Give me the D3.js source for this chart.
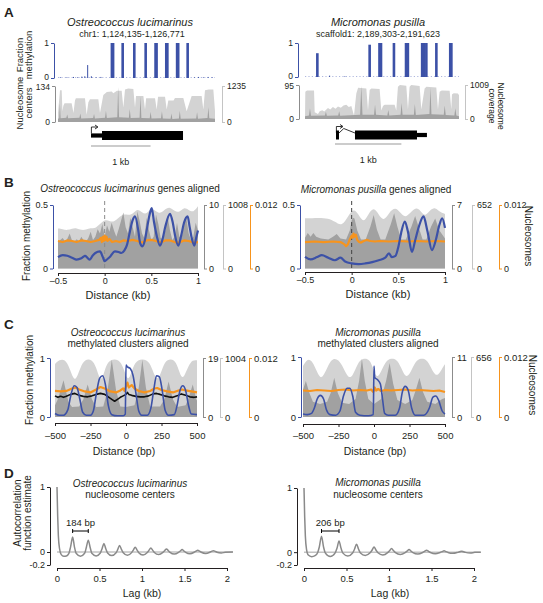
<!DOCTYPE html>
<html>
<head>
<meta charset="utf-8">
<script src="https://cdn.jsdelivr.net/npm/d3@7/dist/d3.min.js"></script>
<style>
html,body{margin:0;padding:0;background:#fff;}
svg{display:block;font-family:"Liberation Sans",Arial,Helvetica,sans-serif;}
</style>
</head>
<body>
<svg id="fig" width="543" height="603" viewBox="0 0 543 603"></svg>
<script>
// ================= DATA =================
const speciesO = "Ostreococcus lucimarinus";
const speciesM = "Micromonas pusilla";
const chromO = "chr1", regionO = [1124135, 1126771];
const chromM = "scaffold1", regionM = [2189303, 2191623];

// ---- Panel A : single locus (bp from region start) ----
const methPosO = [40,150,260,330,400,450,498,560,640,720,905,925,1086,1281,1472,1638,1655,1818,1836,2000,2018,2177,2290,2360,2440,2520,2590];
const methValO = [0.02,0.02,0.03,0.02,0.04,0.05,0.37,0.05,0.02,0.03,1,1,1,1,1,1,1,1,1,1,1,1,0.02,0.03,0.02,0.03,0.02];
const methPosM = [186,371,600,974,1122,1145,1340,1522,1550,1765,1790,1828,1979,2188,2205];
const methValM = [0.7,0.04,0.02,0.95,1,1,1,1,1,1,1,1,1,1,1];
const covMaxO = 1235, cenMaxO = 134, covMaxM = 1009, cenMaxM = 95;
const covO = [[0,309],[34,1087],[62,1087],[75,370],[90,556],[110,642],[229,642],[260,309],[285,741],[300,815],[453,815],[481,247],[510,679],[537,778],[677,778],[705,309],[761,926],[820,1025],[901,1050],[929,988],[990,1074],[1069,1074],[1097,494],[1125,1111],[1180,1149],[1265,1136],[1293,494],[1310,889],[1433,889],[1461,432],[1480,815],[1629,815],[1657,432],[1680,864],[1797,864],[1825,432],[1852,741],[1940,741],[1964,827],[2104,827],[2160,370],[2244,889],[2412,889],[2440,432],[2468,1087],[2530,1111],[2608,1111],[2636,370]];
const cenO = [[0,12],[20,14],[32,70],[44,14],[140,16],[155,28],[170,14],[360,16],[375,32],[390,13],[590,15],[605,30],[620,13],[790,16],[805,42],[820,15],[995,18],[1010,130],[1025,18],[1190,16],[1205,48],[1220,15],[1370,16],[1385,95],[1400,15],[1540,14],[1555,38],[1570,13],[1730,14],[1745,40],[1760,13],[1890,12],[1905,32],[1920,11],[2030,13],[2045,42],[2060,12],[2320,13],[2335,36],[2350,12],[2510,15],[2525,55],[2540,14],[2636,12]];
const covM = [[0,50],[5,807],[30,848],[136,848],[146,202],[196,151],[221,232],[260,262],[290,222],[346,323],[380,283],[420,353],[460,303],[497,373],[540,333],[580,404],[622,424],[660,353],[698,383],[738,101],[773,757],[800,928],[924,908],[949,252],[974,858],[1000,908],[1124,888],[1150,252],[1175,383],[1200,424],[1350,424],[1375,252],[1400,959],[1430,1009],[1526,989],[1551,283],[1576,959],[1600,1009],[1727,979],[1752,283],[1802,908],[1830,959],[1978,938],[2003,283],[2028,807],[2060,848],[2179,837],[2204,283],[2214,726],[2240,767],[2304,757],[2320,706]];
const cenM = [[0,8],[60,10],[75,30],[90,9],[300,10],[315,20],[330,9],[500,10],[515,22],[530,9],[830,12],[848,92],[866,12],[1040,12],[1055,40],[1070,12],[1240,10],[1255,25],[1270,10],[1440,12],[1455,45],[1470,12],[1640,12],[1655,42],[1670,11],[1875,14],[1890,88],[1905,13],[2090,12],[2105,38],[2120,11],[2250,10],[2265,30],[2280,10],[2320,8]];
const geneExonsO = [[554,739,"utr"],[739,2099,"cds"]], geneIntronsO = [], tssO = 554;
const geneExonsM = [[467,512,"cds"],[753,1687,"cds"],[1687,1837,"utr"]], geneIntronsM = [[512,753]], tssM = 467;
const scaleBarO = [554,1554], scaleBarM = [452,1452];

// ---- Panel B : genes aligned (kb) ----
const bMaxO = [0.5, 10, 1008, 0.012];   // methylation, centers, coverage, MNase
const bMaxM = [0.5, 7, 652, 0.012];
const covB_O = [[-0.5,635],[-0.45,625],[-0.4,605],[-0.35,635],[-0.3,645],[-0.25,605],[-0.2,615],[-0.15,645],[-0.1,635],[-0.05,706],[0,776],[0.05,756],[0.1,736],[0.15,806],[0.2,867],[0.25,847],[0.3,857],[0.35,958],[0.4,887],[0.45,857],[0.5,968],[0.55,907],[0.6,867],[0.65,948],[0.7,978],[0.75,907],[0.8,887],[0.85,978],[0.9,927],[0.95,887],[1.0,988]];
const cenB_O = [[-0.5,4.2],[-0.475,4.5],[-0.45,4.8],[-0.425,4.3],[-0.4,4.7],[-0.375,5.5],[-0.35,4.4],[-0.325,4.2],[-0.3,4.6],[-0.275,4.3],[-0.25,5.0],[-0.225,4.4],[-0.2,4.2],[-0.175,4.8],[-0.15,5.8],[-0.125,4.5],[-0.1,5.0],[-0.075,6.2],[-0.05,5.5],[-0.025,7.0],[0,5.0],[0.025,6.8],[0.05,5.8],[0.075,7.2],[0.1,6.0],[0.125,5.0],[0.15,6.2],[0.175,7.5],[0.2,8.8],[0.225,6.5],[0.25,5.5],[0.275,8.0],[0.3,6.5],[0.325,5.0],[0.35,9.0],[0.375,7.5],[0.4,5.5],[0.425,4.8],[0.45,8.0],[0.475,6.0],[0.5,4.5],[0.525,5.0],[0.55,8.5],[0.575,7.0],[0.6,4.8],[0.625,4.6],[0.65,6.0],[0.675,8.2],[0.7,6.0],[0.725,4.5],[0.75,5.0],[0.775,7.2],[0.8,5.0],[0.825,4.8],[0.85,7.5],[0.875,8.0],[0.9,5.5],[0.925,4.5],[0.95,5.0],[0.975,7.2],[1.0,6.0]];
const mnB_O = [[-0.5,0.0052],[-0.45,0.0050],[-0.4,0.0053],[-0.35,0.0052],[-0.3,0.0050],[-0.25,0.0053],[-0.2,0.0052],[-0.15,0.0050],[-0.1,0.0052],[-0.06,0.0054],[-0.04,0.0058],[-0.03,0.0050],[-0.02,0.0060],[-0.01,0.0052],[0,0.0062],[0.01,0.0054],[0.02,0.0060],[0.03,0.0052],[0.05,0.0056],[0.08,0.0050],[0.12,0.0052],[0.16,0.0050],[0.2,0.0053],[0.25,0.0052],[0.3,0.0054],[0.35,0.0052],[0.4,0.0049],[0.45,0.0053],[0.5,0.0054],[0.55,0.0052],[0.6,0.0049],[0.65,0.0053],[0.7,0.0053],[0.75,0.0050],[0.8,0.0049],[0.85,0.0053],[0.9,0.0052],[0.95,0.0049],[1.0,0.0050]];
const methB_O = [[-0.5,0.09],[-0.45,0.105],[-0.4,0.1],[-0.35,0.085],[-0.3,0.07],[-0.25,0.08],[-0.21,0.1],[-0.16,0.07],[-0.13,0.1],[-0.1,0.122],[-0.05,0.135],[-0.02,0.09],[0,0.057],[0.03,0.075],[0.06,0.095],[0.11,0.135],[0.15,0.13],[0.18,0.122],[0.21,0.14],[0.24,0.188],[0.27,0.29],[0.3,0.38],[0.325,0.41],[0.36,0.3],[0.38,0.2],[0.404,0.175],[0.43,0.22],[0.45,0.3],[0.48,0.42],[0.504,0.475],[0.53,0.36],[0.56,0.25],[0.593,0.18],[0.62,0.23],[0.65,0.33],[0.7,0.43],[0.73,0.36],[0.754,0.26],[0.789,0.18],[0.82,0.26],[0.85,0.36],[0.889,0.41],[0.91,0.33],[0.93,0.25],[0.961,0.18],[0.98,0.24],[1.0,0.3]];
const covB_M = [[-0.5,515],[-0.35,522],[-0.25,515],[-0.18,482],[-0.104,430],[-0.04,535],[0.021,619],[0.07,561],[0.129,463],[0.18,561],[0.236,632],[0.29,554],[0.343,482],[0.4,574],[0.468,632],[0.52,574],[0.575,515],[0.64,587],[0.7,632],[0.75,574],[0.789,535],[0.84,600],[0.896,632],[0.95,574],[1.0,561]];
const cenB_M = [[-0.5,3.4],[-0.47,3.9],[-0.44,3.5],[-0.41,3.9],[-0.38,3.5],[-0.33,3.3],[-0.25,3.2],[-0.2,3.5],[-0.16,3.8],[-0.12,3.3],[-0.06,3.2],[-0.02,4.2],[0,5.3],[0.015,5.6],[0.03,5.5],[0.06,4.2],[0.1,3.2],[0.15,3.2],[0.2,4.6],[0.236,5.9],[0.27,4.3],[0.31,3.2],[0.36,3.2],[0.42,4.9],[0.455,6.1],[0.49,4.6],[0.53,3.2],[0.58,3.2],[0.64,4.6],[0.68,5.8],[0.72,4.5],[0.76,3.2],[0.8,3.2],[0.85,4.6],[0.895,5.5],[0.94,4.2],[1.0,3.3]];
const mnB_M = [[-0.5,0.0050],[-0.4,0.0051],[-0.3,0.0050],[-0.2,0.0051],[-0.12,0.0050],[-0.08,0.0046],[-0.06,0.0042],[-0.04,0.0046],[-0.02,0.0055],[0,0.0062],[0.01,0.0058],[0.02,0.0066],[0.03,0.0060],[0.045,0.0064],[0.06,0.0054],[0.08,0.0050],[0.1,0.0049],[0.13,0.0052],[0.16,0.0054],[0.2,0.0052],[0.25,0.0051],[0.3,0.0052],[0.4,0.0051],[0.5,0.0052],[0.6,0.0051],[0.7,0.0052],[0.8,0.0051],[0.9,0.0052],[1.0,0.0051]];
const methB_M = [[-0.5,0.092],[-0.44,0.072],[-0.37,0.09],[-0.32,0.105],[-0.25,0.085],[-0.18,0.065],[-0.12,0.085],[-0.07,0.055],[0,0.04],[0.075,0.035],[0.146,0.04],[0.22,0.05],[0.29,0.065],[0.36,0.085],[0.4,0.12],[0.43,0.09],[0.47,0.1],[0.5,0.17],[0.53,0.28],[0.57,0.37],[0.6,0.3],[0.646,0.13],[0.68,0.22],[0.72,0.33],[0.77,0.41],[0.81,0.3],[0.86,0.145],[0.9,0.22],[0.935,0.33],[0.97,0.395],[1.0,0.32]];

// ---- Panel C : methylated clusters aligned (bp) ----
const cMaxO = [1, 19, 1004, 0.012];
const cMaxM = [1, 11, 656, 0.012];
const covC_O = [[-500,904],[-470,974],[-430,984],[-400,853],[-370,643],[-350,643],[-320,853],[-290,984],[-240,984],[-210,853],[-185,633],[-165,653],[-140,884],[-110,984],[-50,984],[-20,853],[5,653],[25,653],[50,853],[80,984],[150,984],[180,853],[210,643],[235,663],[260,863],[290,984],[340,984],[365,853],[390,663],[410,683],[440,873],[470,974],[500,964]];
const cenC_O = [[-500,3.8],[-480,5.7],[-440,11.8],[-405,4.8],[-380,3.2],[-330,3.4],[-300,5.7],[-270,10.5],[-240,5.7],[-210,3.2],[-160,3.4],[-130,8.6],[-100,18.4],[-70,8.6],[-40,3.4],[0,3.2],[60,3.8],[90,9.5],[115,18.4],[140,9.5],[170,3.4],[240,3.4],[270,5.7],[300,11.4],[330,5.7],[360,3.2],[420,3.8],[445,6.7],[470,10.5],[495,5.7],[500,5.3]];
const mnC_O = [[-500,0.0053],[-460,0.0052],[-420,0.0053],[-380,0.0058],[-355,0.0060],[-330,0.0056],[-290,0.0052],[-250,0.0050],[-210,0.0056],[-180,0.0061],[-150,0.0058],[-110,0.0052],[-70,0.0050],[-40,0.0054],[-20,0.0058],[-10,0.0053],[0,0.0062],[10,0.0070],[20,0.0060],[40,0.0065],[60,0.0058],[90,0.0053],[130,0.0050],[170,0.0053],[200,0.0058],[220,0.0059],[250,0.0055],[290,0.0052],[330,0.0050],[370,0.0054],[395,0.0056],[420,0.0054],[460,0.0052],[500,0.0050]];
const mnC2_O = [[-500,0.0043],[-480,0.0040],[-460,0.0042],[-440,0.0040],[-420,0.0042],[-390,0.0046],[-360,0.0048],[-330,0.0044],[-300,0.0042],[-270,0.0041],[-240,0.0043],[-210,0.0046],[-180,0.0048],[-150,0.0046],[-120,0.0040],[-95,0.0035],[-80,0.0032],[-60,0.0036],[-40,0.0040],[-20,0.0043],[0,0.0046],[10,0.0050],[20,0.0046],[40,0.0044],[70,0.0042],[100,0.0041],[130,0.0041],[160,0.0043],[190,0.0047],[215,0.0048],[240,0.0046],[270,0.0043],[300,0.0041],[330,0.0040],[360,0.0043],[390,0.0047],[420,0.0044],[450,0.0041],[480,0.0040],[500,0.0041]];
const methC_O = [[-500,0.06],[-470,0.03],[-440,0.03],[-410,0.12],[-390,0.35],[-365,0.53],[-345,0.5],[-325,0.3],[-305,0.08],[-280,0.03],[-250,0.03],[-230,0.1],[-210,0.38],[-185,0.66],[-165,0.7],[-145,0.55],[-125,0.2],[-100,0.04],[-60,0.02],[-20,0.02],[-5,0.05],[0,0.88],[10,0.85],[30,0.82],[50,0.7],[70,0.4],[90,0.1],[110,0.03],[150,0.03],[175,0.15],[195,0.45],[215,0.7],[235,0.68],[255,0.45],[275,0.12],[300,0.03],[340,0.04],[360,0.2],[380,0.45],[400,0.53],[420,0.45],[440,0.2],[460,0.05],[500,0.04]];
const covC_M = [[-500,558],[-470,636],[-440,623],[-410,525],[-380,420],[-355,446],[-320,577],[-290,643],[-250,630],[-215,538],[-180,420],[-150,446],[-115,590],[-80,643],[-30,636],[-5,525],[15,433],[40,459],[75,590],[110,643],[160,636],[190,544],[220,433],[250,459],[285,590],[320,643],[370,636],[400,544],[432,446],[460,472],[490,558],[500,577]];
const cenC_M = [[-500,5.0],[-480,6.6],[-455,4.4],[-430,2.8],[-380,2.4],[-330,2.8],[-305,4.4],[-280,7.2],[-255,4.4],[-225,2.6],[-175,2.4],[-130,3.3],[-105,6.6],[-85,10.7],[-65,6.6],[-40,3.3],[0,2.4],[50,3.3],[85,6.6],[110,9.9],[135,6.1],[165,3.1],[220,2.4],[270,3.1],[295,5.0],[320,7.2],[345,4.6],[375,2.8],[432,2.4],[480,3.3],[500,3.5]];
const mnC_M = [[-500,0.0053],[-450,0.0052],[-400,0.0054],[-350,0.0053],[-300,0.0052],[-250,0.0054],[-200,0.0055],[-150,0.0053],[-100,0.0054],[-50,0.0053],[-20,0.0055],[-5,0.0050],[5,0.0059],[15,0.0053],[30,0.0056],[50,0.0052],[80,0.0054],[120,0.0053],[170,0.0054],[220,0.0055],[270,0.0053],[320,0.0054],[370,0.0053],[420,0.0052],[460,0.0053],[500,0.0050]];
const methC_M = [[-500,0.05],[-470,0.04],[-440,0.06],[-420,0.15],[-400,0.3],[-378,0.36],[-355,0.3],[-335,0.12],[-310,0.04],[-270,0.03],[-240,0.1],[-215,0.35],[-190,0.48],[-170,0.48],[-150,0.35],[-130,0.08],[-100,0.03],[-40,0.02],[-5,0.04],[0,0.85],[5,0.66],[25,0.62],[45,0.55],[60,0.3],[75,0.06],[100,0.03],[150,0.03],[180,0.15],[200,0.42],[220,0.51],[240,0.45],[265,0.15],[290,0.03],[350,0.03],[390,0.15],[415,0.33],[435,0.35],[455,0.28],[480,0.1],[500,0.05]];

// ---- Panel D : autocorrelation of nucleosome centers (lag kb) ----
const repeatO = 0.184, repeatM = 0.206;
const acfO = [[0,1],[0.008,0.55],[0.016,0.25],[0.03,0.05],[0.05,-0.04],[0.08,-0.065],[0.11,-0.06],[0.14,-0.02],[0.16,0.08],[0.184,0.23],[0.205,0.08],[0.225,-0.02],[0.276,-0.065],[0.325,-0.02],[0.345,0.07],[0.368,0.18],[0.39,0.07],[0.41,-0.02],[0.46,-0.06],[0.51,-0.015],[0.53,0.05],[0.552,0.13],[0.574,0.05],[0.595,-0.015],[0.644,-0.055],[0.695,-0.012],[0.715,0.04],[0.736,0.1],[0.758,0.04],[0.78,-0.012],[0.828,-0.05],[0.878,-0.01],[0.898,0.03],[0.92,0.075],[0.942,0.03],[0.962,-0.01],[1.012,-0.045],[1.062,-0.008],[1.082,0.025],[1.104,0.06],[1.126,0.025],[1.146,-0.008],[1.196,-0.04],[1.246,-0.006],[1.266,0.02],[1.288,0.045],[1.31,0.02],[1.33,-0.006],[1.38,-0.032],[1.43,-0.005],[1.45,0.015],[1.472,0.037],[1.494,0.015],[1.514,-0.005],[1.564,-0.027],[1.614,-0.004],[1.634,0.012],[1.656,0.028],[1.678,0.012],[1.698,-0.004],[1.748,-0.022],[1.798,-0.003],[1.818,0.01],[1.84,0.02],[1.862,0.01],[1.882,-0.003],[1.932,-0.015],[1.98,-0.004],[2.07,0]];
const acfM = [[0,1],[0.008,0.55],[0.016,0.25],[0.03,0.04],[0.05,-0.045],[0.09,-0.07],[0.13,-0.055],[0.16,-0.01],[0.18,0.08],[0.206,0.25],[0.23,0.08],[0.252,-0.015],[0.309,-0.068],[0.365,-0.015],[0.388,0.06],[0.412,0.175],[0.436,0.06],[0.458,-0.015],[0.515,-0.06],[0.572,-0.012],[0.594,0.045],[0.618,0.125],[0.642,0.045],[0.664,-0.012],[0.721,-0.05],[0.778,-0.01],[0.8,0.03],[0.824,0.08],[0.848,0.03],[0.87,-0.01],[0.927,-0.045],[0.984,-0.008],[1.006,0.022],[1.03,0.057],[1.054,0.022],[1.076,-0.008],[1.133,-0.035],[1.19,-0.006],[1.212,0.016],[1.236,0.042],[1.26,0.016],[1.282,-0.006],[1.339,-0.03],[1.396,-0.005],[1.418,0.012],[1.442,0.031],[1.466,0.012],[1.488,-0.005],[1.545,-0.025],[1.602,-0.004],[1.624,0.008],[1.648,0.021],[1.672,0.008],[1.694,-0.004],[1.751,-0.018],[1.808,-0.003],[1.83,0.006],[1.854,0.016],[1.878,0.006],[1.9,-0.003],[1.957,-0.012],[2.01,-0.003],[2.08,0]];

// ---- tick labels ----
const ticksB = [-0.5, 0, 0.5, 1], ticksBLab = ["\u20130.5", "0", "0.5", "1"];
const ticksC = [-500, -250, 0, 250, 500], ticksCLab = ["\u2013500", "\u2013250", "0", "250", "500"];
const ticksD = [0, 0.5, 1, 1.5, 2], ticksDLab = ["0", "0.5", "1", "1.5", "2"];
const ticksDy = [-0.2, 0, 1], ticksDyLab = ["-0.2", "0", "1"];

// ================= DRAWING =================
const svg = d3.select("#fig");
const COL = {blue:"#3c51a7", blueLight:"#9aa5d6", orange:"#f7941d", light:"#d3d3d3", dark:"#a1a1a1",
  lightAxis:"#c4c4c4", darkAxis:"#8c8c8c", ink:"#231f20", acf:"#8a8a8a"};
const fmtN = d3.format(",");
const fmtMax = d => String(d);

function addText(x, y, s, fs, o = {}) {
  const t = svg.append("text").attr("x", x).attr("y", y).attr("font-size", fs)
    .attr("fill", o.fill || COL.ink).attr("text-anchor", o.anchor || "middle");
  if (o.italic) t.attr("font-style", "italic");
  if (o.bold) t.attr("font-weight", "bold");
  t.text(s);
  return t;
}
function addTitle(x, y, ital, rest, fs) {
  const t = svg.append("text").attr("x", x).attr("y", y).attr("font-size", fs)
    .attr("text-anchor", "middle").attr("fill", COL.ink);
  t.append("tspan").attr("font-style", "italic").text(ital);
  if (rest) t.append("tspan").text(rest);
}
function rotText(x, y, lines, fs, angle, gap) {
  const t = svg.append("text").attr("transform", `translate(${x},${y}) rotate(${angle})`)
    .attr("font-size", fs).attr("text-anchor", "middle").attr("fill", COL.ink);
  lines.forEach((s, i) => t.append("tspan").attr("x", 0).attr("dy", i === 0 ? 0 : gap).text(s));
}
function styleAxis(g, color, fs) {
  g.attr("font-family", null).attr("font-size", null);
  g.selectAll(".domain, .tick line").attr("stroke", color).attr("stroke-width", 1);
  g.selectAll(".tick text").attr("fill", COL.ink).attr("font-size", fs);
}
function yAxis(scale, x, side, vals, labels, color, fs, pad = 2) {
  const ax = (side === "left" ? d3.axisLeft(scale) : d3.axisRight(scale))
    .tickValues(vals).tickFormat((d, i) => labels[i]).tickSize(3).tickSizeOuter(0).tickPadding(pad);
  const g = svg.append("g").attr("transform", `translate(${x},0)`).call(ax);
  styleAxis(g, color, fs);
  return g;
}
function xAxis(scale, y, vals, labels, fs, pad = 2) {
  const ax = d3.axisBottom(scale).tickValues(vals).tickFormat((d, i) => labels[i])
    .tickSize(3).tickSizeOuter(0).tickPadding(pad);
  const g = svg.append("g").attr("transform", `translate(0,${y})`).call(ax);
  styleAxis(g, COL.ink, fs);
  return g;
}
function area(data, x, y, fill, curve = d3.curveLinear) {
  svg.append("path").datum(data).attr("fill", fill)
    .attr("d", d3.area().x(d => x(d[0])).y0(y(0)).y1(d => y(d[1])).curve(curve));
}
function line(data, x, y, stroke, w, curve = d3.curveLinear) {
  svg.append("path").datum(data).attr("fill", "none").attr("stroke", stroke)
    .attr("stroke-width", w).attr("stroke-linejoin", "round")
    .attr("d", d3.line().x(d => x(d[0])).y(d => y(d[1])).curve(curve));
}

// ---------- Panel letters ----------
[["A",17],["B",187],["C",329],["D",478]].forEach(([s, y]) =>
  addText(4, y, s, 13.5, {anchor: "start", bold: true}));

// ---------- Panel A ----------
function drawTrack(c) {
  area(c.cov, c.x, c.covY, COL.light);
  area(c.cen, c.x, c.cenY, COL.dark);
  svg.append("line").attr("x1", c.x.range()[0]).attr("x2", c.x.range()[1])
    .attr("y1", c.methY(0) - 0.5).attr("y2", c.methY(0) - 0.5)
    .attr("stroke", COL.blueLight).attr("stroke-width", 0.8).attr("stroke-dasharray", "1.2,2.2");
  svg.append("g").selectAll("rect").data(d3.zip(c.methPos, c.methVal)).join("rect")
    .attr("x", d => c.x(d[0]) - (d[1] > 0.5 ? 1.3 : 0.5))
    .attr("width", d => d[1] > 0.5 ? 2.6 : 1)
    .attr("y", d => c.methY(d[1]))
    .attr("height", d => c.methY(0) - c.methY(d[1]))
    .attr("fill", COL.blue);
}
function drawGene(x, cy, tss, exons, introns) {
  introns.forEach(i => {
    const x0 = x(i[0]), x1 = x(i[1]), xm = x0 + (x1 - x0) * 0.3;
    svg.append("path").attr("d", `M${x0},${cy - 2}L${xm},${cy - 6.5}L${x1},${cy - 2}`)
      .attr("fill", "none").attr("stroke", "#000").attr("stroke-width", 0.8);
  });
  exons.forEach(e => {
    const h = e[2] === "cds" ? 9 : 4.2;
    svg.append("rect").attr("x", x(e[0])).attr("width", x(e[1]) - x(e[0]))
      .attr("y", cy - h / 2).attr("height", h).attr("fill", "#000");
  });
  const tx = x(tss);
  svg.append("path").attr("d", `M${tx + 0.4},${cy - 2}V${cy - 8.5}H${tx + 6}`)
    .attr("fill", "none").attr("stroke", "#000").attr("stroke-width", 0.8);
  svg.append("path").attr("d", `M${tx + 4},${cy - 10.5}L${tx + 7},${cy - 8.5}L${tx + 4},${cy - 6.5}`)
    .attr("fill", "none").attr("stroke", "#000").attr("stroke-width", 0.8);
}
function drawScaleBar(x, y, bar, ly) {
  svg.append("line").attr("x1", x(bar[0])).attr("x2", x(bar[1])).attr("y1", y).attr("y2", y)
    .attr("stroke", "#9a9a9a").attr("stroke-width", 1.2);
  addText((x(bar[0]) + x(bar[1])) / 2, ly, "1 kb", 9);
}
function nudge(g, value, dy) {
  g.selectAll(".tick").filter(d => d === value).select("text").attr("y", dy);
}

// A left
{
  const x = d3.scaleLinear([0, regionO[1] - regionO[0]], [58, 215]);
  const methY = d3.scaleLinear([0, 1], [78, 43]);
  const covY = d3.scaleLinear([0, covMaxO], [122, 86]);
  const cenY = d3.scaleLinear([0, cenMaxO], [122, 86]);
  drawTrack({x, methY, covY, cenY, cov: covO, cen: cenO, methPos: methPosO, methVal: methValO});
  const gm = yAxis(methY, 54, "left", [0, 1], ["0", "1"], COL.blue, 8.5);
  nudge(gm, 0, -1.5);
  const gc = yAxis(cenY, 55, "left", [0, cenMaxO], ["0", fmtMax(cenMaxO)], COL.darkAxis, 8.5);
  nudge(gc, cenMaxO, 1);
  yAxis(covY, 222, "right", [0, covMaxO], ["0", fmtMax(covMaxO)], COL.lightAxis, 8.5);
  drawGene(x, 135.5, tssO, geneExonsO, geneIntronsO);
  drawScaleBar(x, 146, scaleBarO, 165);
  addText(130, 25.5, speciesO, 11, {italic: true});
  addText(132, 36.5, `${chromO}: ${fmtN(regionO[0])}-${fmtN(regionO[1])}`, 9);
  rotText(22.5, 55, ["Fraction", "methylation"], 9.5, -90, 9.5);
  rotText(22.5, 103, ["Nucleosome", "centers"], 9.5, -90, 9.5);
}
// A right
{
  const x = d3.scaleLinear([0, regionM[1] - regionM[0]], [305, 459]);
  const methY = d3.scaleLinear([0, 1], [77, 43]);
  const covY = d3.scaleLinear([0, covMaxM], [119, 85]);
  const cenY = d3.scaleLinear([0, cenMaxM], [119, 85]);
  drawTrack({x, methY, covY, cenY, cov: covM, cen: cenM, methPos: methPosM, methVal: methValM});
  const gm = yAxis(methY, 298, "left", [0, 1], ["0", "1"], COL.blue, 8.5);
  nudge(gm, 0, -1.5);
  const gc = yAxis(cenY, 299, "left", [0, cenMaxM], ["0", fmtMax(cenMaxM)], COL.darkAxis, 8.5);
  nudge(gc, cenMaxM, 1);
  yAxis(covY, 465, "right", [0, covMaxM], ["0", fmtMax(covMaxM)], COL.lightAxis, 8.5);
  drawGene(x, 135, tssM, geneExonsM, geneIntronsM);
  drawScaleBar(x, 144, scaleBarM, 163);
  addText(378, 26, speciesM, 11, {italic: true});
  addText(378, 36.5, `${chromM}: ${fmtN(regionM[0])}-${fmtN(regionM[1])}`, 9);
  rotText(497.5, 106, ["Nucleosome", "coverage"], 8.5, 90, 9);
}

// ---------- Panels B & C ----------
function drawProfile(c) {
  const yM = d3.scaleLinear([0, c.max[0]], [c.y0, c.y1]);
  const yC = d3.scaleLinear([0, c.max[1]], [c.y0, c.y1]);
  const yV = d3.scaleLinear([0, c.max[2]], [c.y0, c.y1]);
  const yO = d3.scaleLinear([0, c.max[3]], [c.y0, c.y1]);
  area(c.cov, c.x, yV, COL.light, d3.curveBasis);
  area(c.cen, c.x, yC, COL.dark, d3.curveLinear);
  if (c.dash) {
    svg.append("line").attr("x1", c.x(0)).attr("x2", c.x(0)).attr("y1", c.y1 - 4).attr("y2", c.y0)
      .attr("stroke", c.dash).attr("stroke-width", 1).attr("stroke-dasharray", "4,3");
  }
  line(c.mn, c.x, yO, COL.orange, 2.2);
  if (c.mn2) line(c.mn2, c.x, yO, "#111", 1.6);
  line(c.meth, c.x, yM, COL.blue, c.methW, d3.curveMonotoneX);
  const lab = m => String(m);
  yAxis(yM, c.axL, "left", [0, c.max[0]], ["0", lab(c.max[0])], COL.blue, c.fs);
  yAxis(yC, c.axR[0], "right", [0, c.max[1]], ["0", lab(c.max[1])], COL.darkAxis, c.fs);
  yAxis(yV, c.axR[1], "right", [0, c.max[2]], ["0", lab(c.max[2])], COL.lightAxis, c.fs);
  yAxis(yO, c.axR[2], "right", [0, c.max[3]], ["0", lab(c.max[3])], COL.orange, c.fs);
  xAxis(c.x, c.xAxisY, c.ticks, c.tickLab, c.fs, c.xPad);
}

// B left
drawProfile({x: d3.scaleLinear([-0.5, 1], [58, 198]), y0: 268.5, y1: 205, max: bMaxO,
  cov: covB_O, cen: cenB_O, mn: mnB_O, meth: methB_O, methW: 2.2, dash: "#8a8a8a",
  axL: 53, axR: [204, 223, 250], fs: 9, ticks: ticksB, tickLab: ticksBLab, xAxisY: 273, xPad: 1.5});
addTitle(130, 192, speciesO, " genes aligned", 10);
addText(118, 299, "Distance (kb)", 11);
rotText(30, 236, ["Fraction methylation"], 10, -90, 0);
// B right
drawProfile({x: d3.scaleLinear([-0.5, 1], [305, 445]), y0: 268.5, y1: 205, max: bMaxM,
  cov: covB_M, cen: cenB_M, mn: mnB_M, meth: methB_M, methW: 2.2, dash: "#444",
  axL: 300, axR: [452, 472, 499], fs: 9, ticks: ticksB, tickLab: ticksBLab, xAxisY: 272, xPad: 1.5});
addTitle(376, 193, speciesM, " genes aligned", 10);
addText(378, 298, "Distance (kb)", 11);
rotText(525, 236, ["Nucleosomes"], 10, 90, 0);

// C left
drawProfile({x: d3.scaleLinear([-500, 500], [55, 197]), y0: 417, y1: 358, max: cMaxO,
  cov: covC_O, cen: cenC_O, mn: mnC_O, mn2: mnC2_O, meth: methC_O, methW: 1.6, dash: null,
  axL: 50, axR: [203, 220, 249], fs: 9.5, ticks: ticksC, tickLab: ticksCLab, xAxisY: 423, xPad: 6});
addTitle(128, 336, speciesO, null, 10);
addText(128, 347, "methylated clusters aligned", 10);
addText(124, 454.5, "Distance (bp)", 10.5);
rotText(32.5, 380, ["Fraction methylation"], 10, -90, 0);
// C right
drawProfile({x: d3.scaleLinear([-500, 500], [303, 445]), y0: 417, y1: 357, max: cMaxM,
  cov: covC_M, cen: cenC_M, mn: mnC_M, mn2: null, meth: methC_M, methW: 1.6, dash: null,
  axL: 301, axR: [452, 471, 499], fs: 9.5, ticks: ticksC, tickLab: ticksCLab, xAxisY: 424, xPad: 5.5});
addTitle(378, 336, speciesM, null, 10);
addText(378, 347, "methylated clusters aligned", 10);
addText(375, 455, "Distance (bp)", 10.5);
rotText(529, 385, ["Nucleosomes"], 10, 90, 0);

// ---------- Panel D ----------
function drawACF(c) {
  const y = d3.scaleLinear([-0.2, 1], [565, c.yTop]);
  svg.append("line").attr("x1", c.x(0)).attr("x2", c.x(c.acf[c.acf.length - 1][0]))
    .attr("y1", y(0)).attr("y2", y(0)).attr("stroke", "#9a9a9a").attr("stroke-width", 0.9);
  line(c.acf, c.x, y, COL.acf, 1.5, d3.curveMonotoneX);
  yAxis(y, c.axL, "left", ticksDy, ticksDyLab, COL.ink, 9);
  xAxis(c.x, 568, ticksD, ticksDLab, 9.5, 4.5);
  const bx0 = c.x(c.rep), bx1 = c.x(2 * c.rep), by = 531;
  svg.append("path").attr("d", `M${bx0},${by - 2}V${by + 2}M${bx0},${by}H${bx1}M${bx1},${by - 2}V${by + 2}`)
    .attr("fill", "none").attr("stroke", "#000").attr("stroke-width", 1);
  addText((bx0 + bx1) / 2, 525.5, `${Math.round(c.rep * 1000)} bp`, 9.5);
}
drawACF({x: d3.scaleLinear([0, 2], [57, 227]), yTop: 487, acf: acfO, rep: repeatO, axL: 50});
addTitle(130, 487, speciesO, null, 10);
addText(130, 497.5, "nucleosome centers", 10);
addText(142, 597, "Lag (kb)", 10.5);
rotText(20.5, 513, ["Autocorrelation", "function estimate"], 10, -90, 10);
drawACF({x: d3.scaleLinear([0, 2], [304, 474]), yTop: 488, acf: acfM, rep: repeatM, axL: 297});
addTitle(378, 486, speciesM, null, 10);
addText(378, 497.5, "nucleosome centers", 10);
addText(390, 597, "Lag (kb)", 10.5);
</script>
</body>
</html>
